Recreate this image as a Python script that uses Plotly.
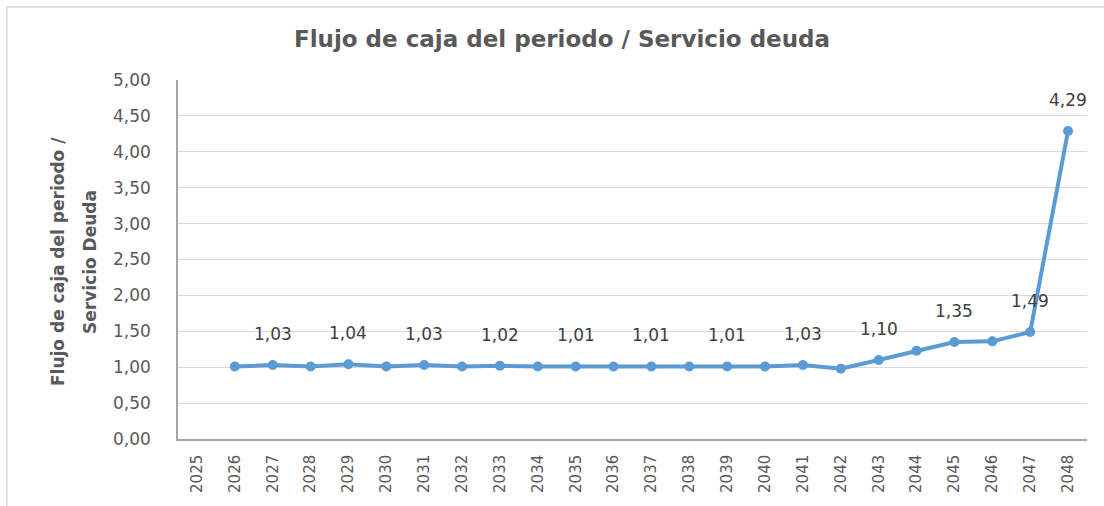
import plotly.graph_objects as go

# Ratio: cash flow of the period / debt service, by year
years = [str(y) for y in range(2025, 2049)]
ratio = [None, 1.01, 1.03, 1.01, 1.04, 1.01, 1.03, 1.01, 1.02, 1.01, 1.01, 1.01,
         1.01, 1.01, 1.01, 1.01, 1.03, 0.98, 1.10, 1.23, 1.35, 1.36, 1.49, 4.29]
labeled_years = ["2027", "2029", "2031", "2033", "2035", "2037", "2039",
                 "2041", "2043", "2045", "2047", "2048"]
y_ticks = [0, 0.5, 1, 1.5, 2, 2.5, 3, 3.5, 4, 4.5, 5]
axis_title_lines = ["Flujo de caja del periodo /", "Servicio Deuda"]

LINE = "#5b9bd5"
TEXT = "#595959"
FONT = "DejaVu Sans"

# plot-area geometry in pixels
L, R, T, B = 178, 1087, 80, 439
W, H = R - L, B - T

fig = go.Figure()
fig.add_trace(go.Scatter(
    x=years, y=ratio, mode="lines+markers",
    line=dict(color=LINE, width=4),
    marker=dict(color=LINE, size=10),
    connectgaps=False, hoverinfo="x+y",
))

annotations = []
for i, (yr, v) in enumerate(zip(years, ratio)):
    if yr in labeled_years and v is not None:
        annotations.append(dict(
            x=i, y=v, xref="x", yref="y", text=f"{v:.2f}".replace(".", ","),
            showarrow=False, yshift=31,
            font=dict(family=FONT, size=17, color="#404040"),
        ))

# two-line vertical axis title
for px, line in zip([58, 90], axis_title_lines):
    annotations.append(dict(
        xref="paper", yref="paper", x=(px - L) / W, y=(B - 262) / H,
        text=f"<b>{line}</b>", textangle=-90, showarrow=False,
        xanchor="center", yanchor="middle",
        font=dict(family=FONT, size=17, color=TEXT),
    ))

fig.update_layout(
    width=1104, height=506,
    margin=dict(l=L, r=1104 - R, t=T, b=506 - B),
    paper_bgcolor="white", plot_bgcolor="white",
    separators=",.",
    showlegend=False,
    title=dict(
        text="<b>Flujo de caja del periodo / Servicio deuda</b>",
        x=562 / 1104, xanchor="center", y=1 - 39 / 506, yanchor="middle",
        font=dict(family=FONT, size=23, color=TEXT),
    ),
    annotations=annotations,
    shapes=[dict(
        type="rect", xref="paper", yref="paper",
        x0=(7 - L) / W, x1=1.3, y0=-0.4, y1=(B - 7) / H,
        line=dict(color="#d9d9d9", width=1.5), fillcolor="rgba(0,0,0,0)",
        layer="below",
    )],
    xaxis=dict(
        type="category", categoryorder="array", categoryarray=years,
        range=[-0.5, len(years) - 0.5],
        showgrid=False, showline=True, linecolor="#a6a6a6", linewidth=1.5,
        ticks="", tickangle=-90, ticklabelstandoff=8,
        tickfont=dict(family=FONT, size=15, color=TEXT),
        fixedrange=True,
    ),
    yaxis=dict(
        range=[0, 5], tickvals=y_ticks, tickformat=".2f",
        showgrid=True, gridcolor="#d9d9d9", gridwidth=1,
        showline=True, linecolor="#a6a6a6", linewidth=1.5,
        zeroline=False, ticks="", ticklabelstandoff=22,
        tickfont=dict(family=FONT, size=17, color=TEXT),
        fixedrange=True,
    ),
)

fig.write_html("out.html")
